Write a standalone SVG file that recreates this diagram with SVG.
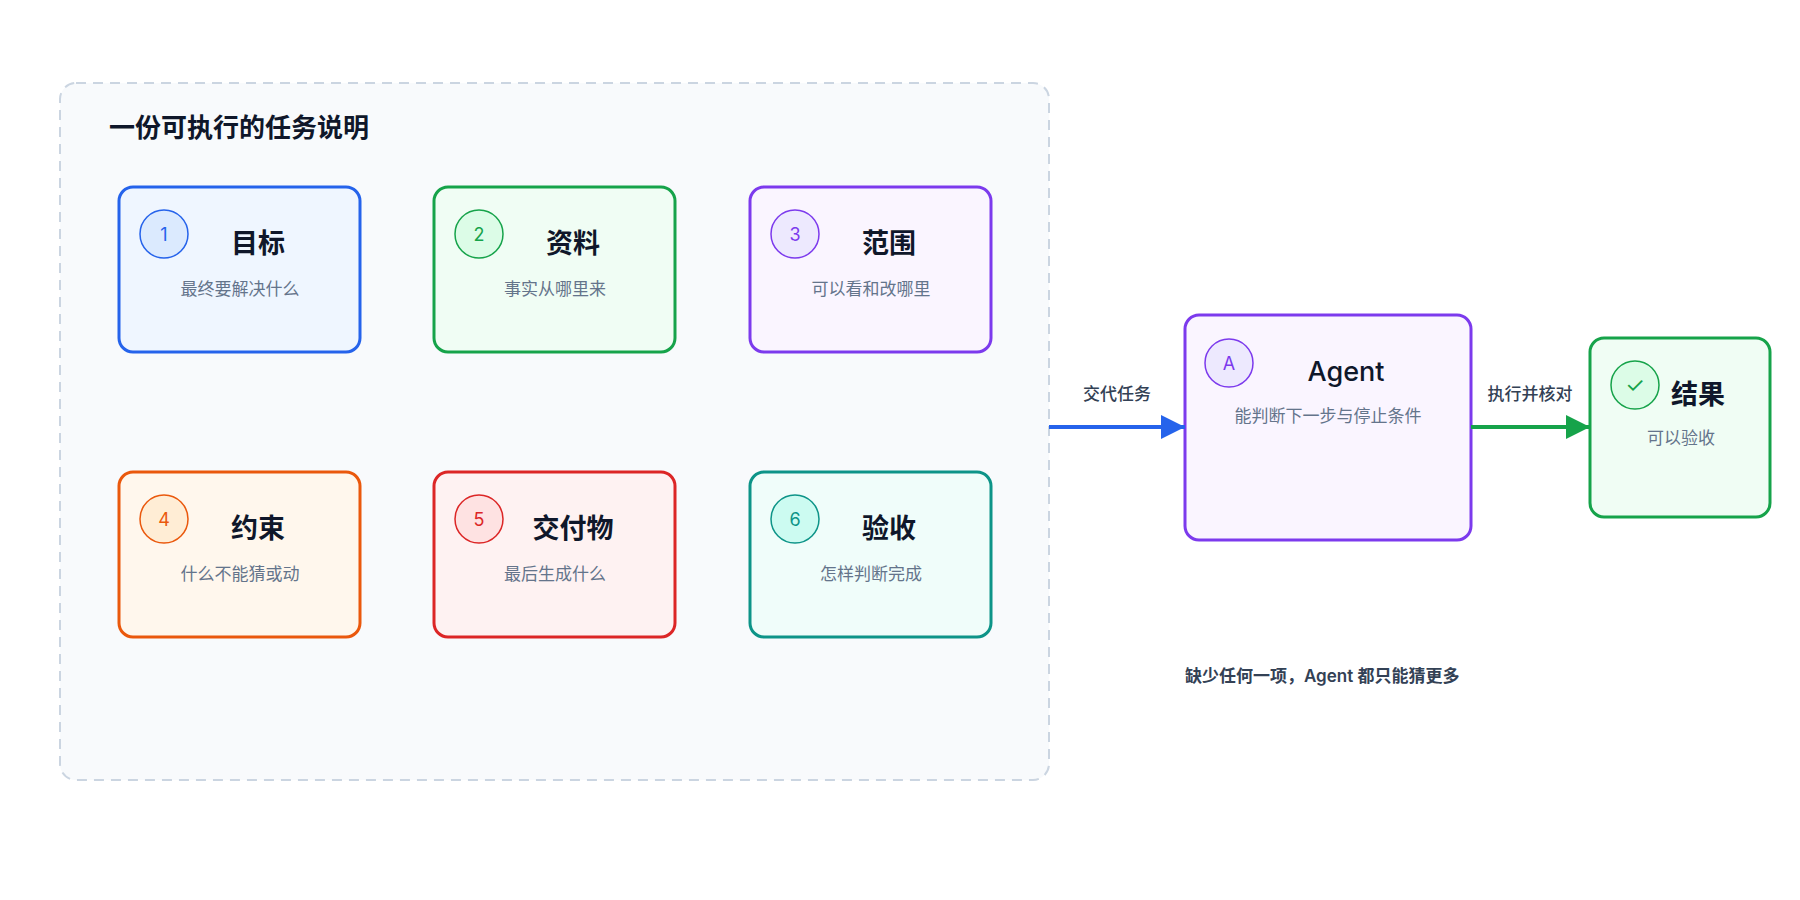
<svg xmlns="http://www.w3.org/2000/svg" width="1800" height="900" viewBox="0 0 1800 900">
<style>
text{font-family:"Inter","Noto Sans CJK SC",sans-serif}
.t{font-size:27px;font-weight:600;fill:#0f172a;text-anchor:middle}
.s{font-size:17px;fill:#64748b;text-anchor:middle}
.n{font-size:18px;text-anchor:middle}
.l{font-size:17px;fill:#334155;text-anchor:middle;font-weight:500}
.card{stroke-width:3}
</style>
<defs>
<marker id="ab" viewBox="0 0 10 10" refX="10" refY="5" markerWidth="6" markerHeight="6" markerUnits="strokeWidth" orient="auto"><path d="M0,0L10,5L0,10z" fill="#2563eb"/></marker>
<marker id="ag" viewBox="0 0 10 10" refX="10" refY="5" markerWidth="6" markerHeight="6" markerUnits="strokeWidth" orient="auto"><path d="M0,0L10,5L0,10z" fill="#16a34a"/></marker>
</defs>
<rect width="1800" height="900" fill="#fff"/>
<g id="container">
<rect x="60" y="83" width="989" height="697" rx="16" fill="#f8fafc" stroke="#cbd5e1" stroke-width="2" stroke-dasharray="10 7"/>
<text x="109" y="137" style="font-size:26px;font-weight:700;fill:#0f172a">一份可执行的任务说明</text>
</g>
<g id="n1"><rect class="card" x="119" y="187" width="241" height="165" rx="14" fill="#eff6ff" stroke="#2563eb"/><circle cx="164" cy="234" r="24" fill="#dbeafe" stroke="#2563eb" stroke-width="1.5"/><text class="n" x="164" y="241" fill="#2563eb">1</text><text class="t" x="258" y="253">目标</text><text class="s" x="240" y="295">最终要解决什么</text></g>
<g id="n2"><rect class="card" x="434" y="187" width="241" height="165" rx="14" fill="#f0fdf4" stroke="#16a34a"/><circle cx="479" cy="234" r="24" fill="#dcfce7" stroke="#16a34a" stroke-width="1.5"/><text class="n" x="479" y="241" fill="#16a34a">2</text><text class="t" x="573" y="253">资料</text><text class="s" x="555" y="295">事实从哪里来</text></g>
<g id="n3"><rect class="card" x="750" y="187" width="241" height="165" rx="14" fill="#faf5ff" stroke="#7c3aed"/><circle cx="795" cy="234" r="24" fill="#ede9fe" stroke="#7c3aed" stroke-width="1.5"/><text class="n" x="795" y="241" fill="#7c3aed">3</text><text class="t" x="889" y="253">范围</text><text class="s" x="871" y="295">可以看和改哪里</text></g>
<g id="n4"><rect class="card" x="119" y="472" width="241" height="165" rx="14" fill="#fff7ed" stroke="#ea580c"/><circle cx="164" cy="519" r="24" fill="#ffedd5" stroke="#ea580c" stroke-width="1.5"/><text class="n" x="164" y="526" fill="#ea580c">4</text><text class="t" x="258" y="538">约束</text><text class="s" x="240" y="580">什么不能猜或动</text></g>
<g id="n5"><rect class="card" x="434" y="472" width="241" height="165" rx="14" fill="#fef2f2" stroke="#dc2626"/><circle cx="479" cy="519" r="24" fill="#fee2e2" stroke="#dc2626" stroke-width="1.5"/><text class="n" x="479" y="526" fill="#dc2626">5</text><text class="t" x="573" y="538">交付物</text><text class="s" x="555" y="580">最后生成什么</text></g>
<g id="n6"><rect class="card" x="750" y="472" width="241" height="165" rx="14" fill="#f0fdfa" stroke="#0d9488"/><circle cx="795" cy="519" r="24" fill="#ccfbf1" stroke="#0d9488" stroke-width="1.5"/><text class="n" x="795" y="526" fill="#0d9488">6</text><text class="t" x="889" y="538">验收</text><text class="s" x="871" y="580">怎样判断完成</text></g>
<g id="agent"><rect class="card" x="1185" y="315" width="286" height="225" rx="14" fill="#faf5ff" stroke="#7c3aed"/><circle cx="1229" cy="363" r="24" fill="#ede9fe" stroke="#7c3aed" stroke-width="1.5"/><text class="n" x="1229" y="370" fill="#7c3aed">A</text><text class="t" x="1346" y="381" style="font-weight:500">Agent</text><text class="s" x="1328" y="422">能判断下一步与停止条件</text></g>
<g id="result"><rect class="card" x="1590" y="338" width="180" height="179" rx="14" fill="#f0fdf4" stroke="#16a34a"/><circle cx="1635" cy="385" r="24" fill="#dcfce7" stroke="#16a34a" stroke-width="1.5"/><text class="n" x="1635" y="393" fill="#16a34a" style="font-size:22px">✓</text><text class="t" x="1698" y="404">结果</text><text class="s" x="1681" y="444">可以验收</text></g>
<g id="connectors">
<line x1="1049" y1="427" x2="1185" y2="427" stroke="#2563eb" stroke-width="4" marker-end="url(#ab)"/>
<text class="l" x="1117" y="400">交代任务</text>
<line x1="1471" y1="427" x2="1590" y2="427" stroke="#16a34a" stroke-width="4" marker-end="url(#ag)"/>
<text class="l" x="1530" y="400">执行并核对</text>
</g>
<text x="1185" y="682" style="font-size:17px;font-weight:600;fill:#334155">缺少任何一项，Agent 都只能猜更多</text>
</svg>
